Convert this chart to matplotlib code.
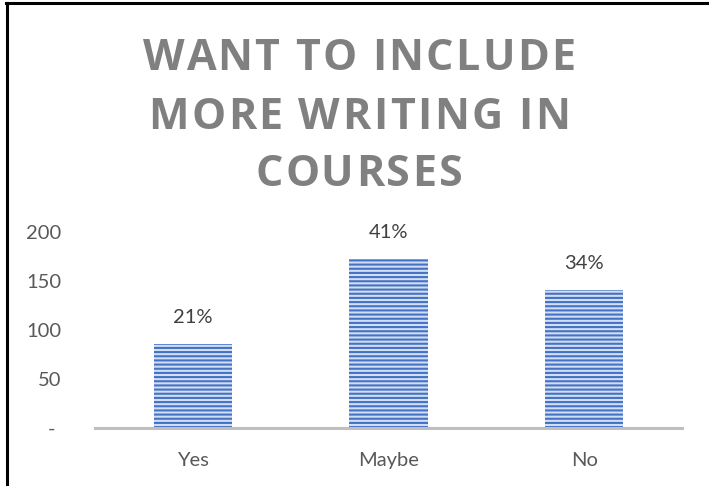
import matplotlib
matplotlib.use("Agg")
import matplotlib.pyplot as plt
import matplotlib.transforms as mtransforms
from matplotlib.lines import Line2D

categories = ["Yes", "Maybe", "No"]
counts = [86, 172, 141]
pct_labels = ["21%", "41%", "34%"]
y_ticks = [0, 50, 100, 150, 200]
y_tick_labels = ["-", "50", "100", "150", "200"]
title_lines = ["WANT TO INCLUDE", "MORE WRITING IN", "COURSES"]

W, H, DPI = 709, 486, 100
plt.rcParams["hatch.linewidth"] = 1.5
plt.rcParams["hatch.color"] = "#4472c4"

fig = plt.figure(figsize=(W / DPI, H / DPI), dpi=DPI)
ax = fig.add_axes([95 / W, 58 / H, 587 / W, 196 / H])

x = list(range(len(categories)))
bars = ax.bar(x, counts, width=0.4, color="#d2def3", edgecolor="#4472c4",
              linewidth=0, hatch="----", zorder=2)

for xi, c, lab in zip(x, counts, pct_labels):
    ax.annotate(lab, (xi, c), xytext=(0, 13), textcoords="offset points",
                ha="center", va="bottom", fontsize=14.5, color="#404040",
                family="Lato")

ax.set_xlim(-0.5, len(categories) - 0.5)
ax.set_ylim(0, 200)
ax.set_yticks(y_ticks)
ax.set_yticklabels(y_tick_labels)
ax.set_xticks(x)
ax.set_xticklabels(categories)
for s in ("top", "right", "left"):
    ax.spines[s].set_visible(False)
ax.spines["bottom"].set_color("#bfbfbf")
ax.spines["bottom"].set_linewidth(2.2)
ax.tick_params(axis="both", length=0, labelsize=14.5, labelcolor="#595959")
ax.tick_params(axis="y", pad=24)
ax.tick_params(axis="x", pad=17)
for t in ax.get_xticklabels() + ax.get_yticklabels():
    t.set_family("Lato")

# the zero label "-" sits a little left of the digits' right edge
zero_lbl = ax.get_yticklabels()[0]
zero_lbl.set_transform(zero_lbl.get_transform() +
                       mtransforms.ScaledTranslation(-6 / DPI, 0,
                                                     fig.dpi_scale_trans))

# Letter-spaced title drawn character by character
fig.canvas.draw()
renderer = fig.canvas.get_renderer()
title_kw = dict(fontsize=31, fontweight="bold", color="#808080",
                family="Open Sans")


def text_width(s):
    t = fig.text(0, 0, s, **title_kw)
    w = t.get_window_extent(renderer).width
    t.remove()
    return w


def char_advances(s):
    adv = []
    prev = 0.0
    for i in range(1, len(s) + 1):
        pre = s[:i].replace(" ", "\u00a0")
        w = text_width(pre + "|") - text_width("|")
        adv.append(w - prev)
        prev = w
    return adv


target_first = 432.0
adv0 = char_advances(title_lines[0])
tracking = (target_first - sum(adv0)) / (len(title_lines[0]) - 1)

centers_y = [53, 112, 169]
cx = 359
for line, cy in zip(title_lines, centers_y):
    adv = char_advances(line)
    total = sum(adv) + tracking * (len(line) - 1)
    xpos = cx - total / 2
    for ch, a in zip(line, adv):
        if ch != " ":
            fig.text(xpos / W, 1 - cy / H, ch, ha="left", va="center_baseline",
                     **title_kw)
        xpos += a + tracking

# Frame lines on the left and top edges
fig.add_artist(Line2D([7 / W, 7 / W], [0, 1 - 3.5 / H], color="black",
                      linewidth=2.2, transform=fig.transFigure))
fig.add_artist(Line2D([6 / W, 1], [1 - 3.5 / H, 1 - 3.5 / H], color="black",
                      linewidth=2.2, transform=fig.transFigure))

fig.savefig("out.png", dpi=DPI)
